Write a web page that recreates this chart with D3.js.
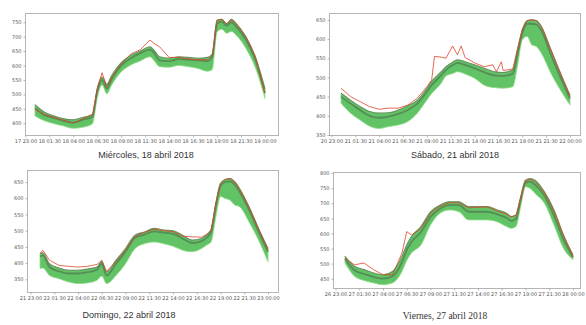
<!DOCTYPE html>
<html>
<head>
<meta charset="utf-8">
<script src="https://cdn.jsdelivr.net/npm/d3@7"></script>
<style>
  html, body { margin: 0; padding: 0; background: #fff; }
  svg { display: block; }
</style>
</head>
<body>
<svg id="chart" width="586" height="325"></svg>
<script>
// Hourly demand: forecast envelope (upper/lower), mean forecast and real demand, per day.

const xTickHours = [-1, 1.5, 4, 6.5, 9, 11.5, 14, 16.5, 19, 21.5, 24];

// Miércoles, 18 abril 2018
const mieTitle = "Miércoles, 18 abril 2018";
const mieHours = [0,1,2,3,4,5,6,6.5,7,7.5,8,9,10,11,12,12.5,13,14,15,16,17,18,18.5,19,19.5,20,20.5,21,22,23,24];
const mieUpper = [464,438,425,415,412,420,430,520,560,535,565,610,635,650,665,650,630,625,630,628,625,628,640,758,760,745,760,745,700,630,520];
const mieLower = [425,408,398,390,382,386,398,488,532,502,532,578,602,616,630,614,596,594,600,596,590,580,586,716,726,712,718,705,660,592,486];
const mieMean  = [452,428,418,408,402,412,422,510,550,520,552,600,625,643,655,640,618,615,622,620,618,615,630,745,752,738,750,735,690,620,505];
const mieReal  = [448,430,420,410,400,415,430,520,575,525,558,605,640,655,688,675,665,628,628,623,620,620,635,755,760,745,758,745,700,630,505];
const mieYTicks = [400,450,500,550,600,650,700,750];
const mieXLabels = ["17 23:00","18 01:30","18 04:00","18 06:30","18 09:00","18 11:30","18 14:00","18 16:30","18 19:00","18 21:30","19 00:00"];

// Sábado, 21 abril 2018
const sabTitle = "Sábado, 21 abril 2018";
const sabHours = [0,1,2,3,4,5,6,7,8,9,9.5,9.8,10.5,11,11.7,12.2,12.6,13,14,15,15.9,16.3,16.8,17,18,18.5,19,19.5,20,20.5,21,22,23,24];
const sabUpper = [459,441,424,411,407,408,415,426,441,472,490,498,515,528,540,546,544,541,533,524,516,514,513,513,520,572,624,648,650,648,633,572,511,454];
const sabLower = [433,407,389,373,367,372,376,385,407,441,458,466,485,504,510,515,513,509,498,480,474,473,472,472,476,530,598,607,585,580,563,511,467,428];
const sabMean  = [450,432,415,400,395,398,405,415,432,463,480,488,506,520,532,538,536,533,524,514,506,505,504,504,510,560,615,640,640,638,622,560,500,445];
const sabReal  = [472,450,437,424,417,420,420,428,446,476,493,555,553,550,582,559,582,552,538,528,533,515,541,518,522,575,625,648,650,648,633,572,511,450];
const sabYTicks = [350,400,450,500,550,600,650];
const sabXLabels = ["20 23:00","21 01:30","21 04:00","21 06:30","21 09:00","21 11:30","21 14:00","21 16:30","21 19:00","21 21:30","22 00:00"];

// Domingo, 22 abril 2018
const domTitle = "Domingo, 22 abril 2018";
const domHours = [0,0.3,1,2,3,4,5,6,6.5,7,8,9,10,11,12,13,14,15,16,17,17.5,18,18.5,19,19.5,20,20.5,21,22,23,24];
const domUpper = [429,432,398,385,378,378,382,388,405,373,409,445,486,496,507,502,500,486,471,476,486,502,584,646,658,661,651,630,574,507,445];
const domLower = [383,385,362,352,342,337,339,347,360,337,362,398,445,460,465,460,452,440,435,445,455,465,540,605,599,594,579,574,527,471,404];
const domMean  = [420,424,388,375,368,368,372,380,398,362,398,435,478,488,498,494,490,476,462,468,478,494,575,638,650,652,642,620,565,498,435];
const domReal  = [430,440,409,393,390,388,390,396,409,375,405,440,482,495,505,500,497,483,481,480,488,502,582,645,658,660,650,628,572,505,440];
const domYTicks = [350,400,450,500,550,600,650];
const domXLabels = ["21 23:00","22 01:30","22 04:00","22 06:30","22 09:00","22 11:30","22 14:00","22 16:30","22 19:00","22 21:30","23 00:00"];

// Viernes, 27 abril 2018
const vieTitle = "Viernes, 27 abril 2018";
const vieHours = [0,1,2,3,4,5,6,6.5,7,8,9,10,11,12,13,14,15,16,17,17.5,18,18.5,19,19.5,20,21,22,23,24];
const vieUpper = [524,491,480,469,463,474,524,562,590,623,672,694,705,705,689,689,689,678,667,656,661,722,777,782,777,738,678,595,529];
const vieLower = [502,458,444,436,430,436,474,510,535,562,628,667,678,672,645,645,645,639,623,617,623,690,755,749,733,700,628,551,513];
const vieMean  = [515,478,466,456,450,458,505,545,572,605,655,682,694,694,672,672,672,664,652,642,648,712,768,772,762,725,660,580,522];
const vieReal  = [518,496,502,480,463,463,535,606,595,617,668,690,702,702,685,687,688,675,664,655,660,720,775,780,772,735,675,592,522];
const vieYTicks = [450,500,550,600,650,700,750,800];
const vieXLabels = ["26 23:00","27 01:30","27 04:00","27 06:30","27 09:00","27 11:30","27 14:00","27 16:30","27 19:00","27 21:30","28 00:00"];

const panels = [
  { title: mieTitle, hours: mieHours, upper: mieUpper, lower: mieLower, mean: mieMean, real: mieReal,
    yTicks: mieYTicks, xLabels: mieXLabels,
    box: [25, 278, 13, 135], xDom: [-1.04, 25.36], yDom: [359, 782], titlePos: [146, 158], serif: false },
  { title: sabTitle, hours: sabHours, upper: sabUpper, lower: sabLower, mean: sabMean, real: sabReal,
    yTicks: sabYTicks, xLabels: sabXLabels,
    box: [329, 580, 13, 135], xDom: [-1.26, 25.05], yDom: [350, 668], titlePos: [455, 158], serif: false },
  { title: domTitle, hours: domHours, upper: domUpper, lower: domLower, mean: domMean, real: domReal,
    yTicks: domYTicks, xLabels: domXLabels,
    box: [27, 278, 170, 292], xDom: [-1.37, 25.05], yDom: [311, 687], titlePos: [129, 318], serif: false },
  { title: vieTitle, hours: vieHours, upper: vieUpper, lower: vieLower, mean: vieMean, real: vieReal,
    yTicks: vieYTicks, xLabels: vieXLabels,
    box: [333, 580, 172, 288], xDom: [-1.26, 24.74], yDom: [419, 804], titlePos: [445, 319], serif: true }
];

const svg = d3.select("#chart");

panels.forEach(p => {
  const [x0, x1, y0, y1] = p.box;
  const x = d3.scaleLinear().domain(p.xDom).range([x0, x1]);
  const y = d3.scaleLinear().domain(p.yDom).range([y1, y0]);
  const g = svg.append("g");

  const rows = p.hours.map((h, i) => ({ h, up: p.upper[i], lo: p.lower[i], mean: p.mean[i], real: p.real[i] }));
  const curve = d3.curveMonotoneX;

  // forecast envelope
  g.append("path")
    .datum(rows)
    .attr("d", d3.area().x(d => x(d.h)).y0(d => y(d.lo)).y1(d => y(d.up)).curve(curve))
    .attr("fill", "#62c266")
    .attr("stroke", "#8fe088")
    .attr("stroke-width", 0.8);

  // darker forecast traces inside the envelope
  g.append("path")
    .datum(rows)
    .attr("d", d3.line().x(d => x(d.h)).y(d => y(d.up)).curve(curve))
    .attr("fill", "none")
    .attr("stroke", "#55704f")
    .attr("stroke-width", 1.1)
    .attr("stroke-opacity", 0.7);
  g.append("path")
    .datum(rows)
    .attr("d", d3.line().x(d => x(d.h)).y(d => y(d.mean)).curve(curve))
    .attr("fill", "none")
    .attr("stroke", "#4d6a4b")
    .attr("stroke-width", 1.8)
    .attr("stroke-opacity", 0.6);

  // real demand
  g.append("path")
    .datum(rows)
    .attr("d", d3.line().x(d => x(d.h)).y(d => y(d.real)).curve(d3.curveLinear))
    .attr("fill", "none")
    .attr("stroke", "#e0442a")
    .attr("stroke-width", 0.8);

  // frame
  g.append("rect")
    .attr("x", x0 + 0.5).attr("y", y0 + 0.5)
    .attr("width", x1 - x0).attr("height", y1 - y0)
    .attr("fill", "none").attr("stroke", "#b5b5b5").attr("stroke-width", 1);

  // axes
  const xAxis = d3.axisBottom(x).tickValues(xTickHours)
    .tickFormat((d, i) => p.xLabels[i]).tickSize(2).tickPadding(1.5);
  const xg = g.append("g").attr("transform", `translate(0,${y1 + 0.5})`).call(xAxis);
  const yAxis = d3.axisLeft(y).tickValues(p.yTicks).tickFormat(d3.format("d")).tickSize(2).tickPadding(2);
  const yg = g.append("g").attr("transform", `translate(${x0 + 0.5},0)`).call(yAxis);
  [xg, yg].forEach(a => {
    a.select(".domain").remove();
    a.selectAll(".tick line").attr("stroke", "#888").attr("stroke-width", 0.6);
    a.selectAll("text").attr("fill", "#555").style("font-family", "DejaVu Sans").style("font-size", "5px");
  });

  // caption
  g.append("text")
    .attr("x", p.titlePos[0]).attr("y", p.titlePos[1])
    .attr("text-anchor", "middle")
    .style("font-family", p.serif ? "Liberation Serif" : "Liberation Sans")
    .style("font-size", p.serif ? "9.5px" : "9px")
    .attr("fill", "#333")
    .text(p.title);
});
</script>
</body>
</html>
